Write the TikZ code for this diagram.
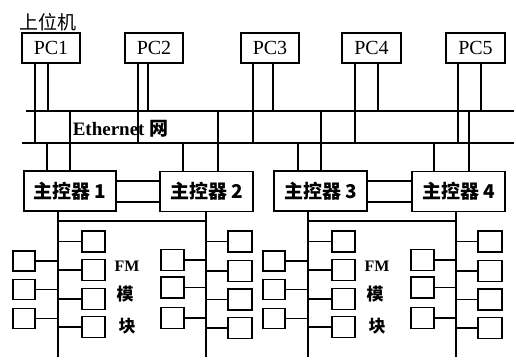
\documentclass[tikz,border=0pt]{standalone}
\usepackage{fontspec}
\setmainfont{Liberation Serif}
\newfontfamily\cjk{Noto Sans CJK SC}
\begin{document}
\begin{tikzpicture}[x=1pt,y=-1pt, line width=1.6pt,
  box/.style={draw, inner sep=0pt, line width=1.6pt},
  pc/.style={box, minimum width=58pt, minimum height=30pt, font=\fontsize{20}{20}\selectfont},
  ctl/.style={box, minimum width=92pt, minimum height=40pt, font=\cjk\bfseries\fontsize{19}{19}\selectfont},
  mod/.style={box, minimum width=23pt, minimum height=21pt},
  lbl/.style={inner sep=0pt, font=\cjk\bfseries\fontsize{17}{17}\selectfont}]
\useasboundingbox (0,0) rectangle (516,361);

% title and PCs
\node[inner sep=0pt, font=\cjk\fontsize{19}{19}\selectfont] (title) at (48,22) {上位机};
\node[pc] (PC1) at (51,48) {PC1};
\node[pc] (PC2) at (154,48) {PC2};
\node[pc] (PC3) at (270,48) {PC3};
\node[pc, minimum width=59pt] (PC4) at (371.5,48) {PC4};
\node[pc, minimum width=59pt] (PC5) at (475.5,48) {PC5};

% Ethernet buses
\coordinate (tbL) at (26,111); \coordinate (tbR) at (514,111);
\coordinate (bbL) at (22,143); \coordinate (bbR) at (514,143);
\draw (tbL) -- (tbR);
\draw (bbL) -- (bbR);
\node[anchor=west, inner sep=0pt, font=\bfseries\fontsize{19}{19}\selectfont] (eth) at (72,129) {Ethernet {\cjk 网}};

\foreach \p/\a/\b in {PC1/35/48, PC2/138/148, PC3/253/273, PC4/355/378, PC5/458/481}{
  \draw (\p.south -| \a,0) -- (bbL -| \a,0);
  \draw (\p.south -| \b,0) -- (tbL -| \b,0);
}

% controllers
\node[ctl] (C1) at (70,191) {主控器 1};
\node[ctl, minimum width=93pt] (C2) at (206.5,191.5) {主控器 2};
\node[ctl, minimum width=93pt] (C3) at (320.5,191) {主控器 3};
\node[ctl, minimum width=93pt] (C4) at (458.5,191.5) {主控器 4};

\foreach \c/\a/\b in {C1/47/70, C2/183/218, C3/298/321, C4/434/469}{
  \draw (bbL -| \a,0) -- (\c.north -| \a,0);
  \draw (tbL -| \b,0) -- (\c.north -| \b,0);
}
\foreach \u/\v in {C1/C2, C3/C4}{
  \draw (\u.east |- 0,181) -- (\v.west |- 0,181);
  \draw (\u.east |- 0,202) -- (\v.west |- 0,202);
}

% module groups
\foreach \g/\L/\R in {0/C1/C2, 1/C3/C4}{
  \begin{scope}[xshift=\g*250]
    \coordinate (la\g) at (58,357);
    \coordinate (ra\g) at (206,357);
    \draw (\L.south -| 58,0) -- (la\g);
    \draw (\R.south -| 206,0) -- (ra\g);
    \draw (la\g |- 0,221) -- (ra\g |- 0,221);
    \foreach \y [count=\i] in {241.5,270,299,327}{
      \node[mod] (mr\g\i) at (93.5,\y) {};
      \draw (mr\g\i.west) -- (mr\g\i.west -| la\g);
    }
    \foreach \y [count=\i] in {261,289.5,318.5}{
      \node[mod, minimum width=22pt, minimum height=20pt] (ml\g\i) at (24,\y) {};
      \draw (ml\g\i.east) -- (ml\g\i.east -| la\g);
    }
    \foreach \y [count=\i] in {241.5,271,299.5,328}{
      \node[mod, minimum width=24pt] (rr\g\i) at (240,\y) {};
      \draw (rr\g\i.west) -- (rr\g\i.west -| ra\g);
    }
    \foreach \y [count=\i] in {260,287.5,318}{
      \node[mod] (rl\g\i) at (172.5,\y) {};
      \draw (rl\g\i.east) -- (rl\g\i.east -| ra\g);
    }
    \node[inner sep=0pt, font=\bfseries\fontsize{16}{16}\selectfont] (fm\g) at (127,266) {FM};
    \node[lbl] (mo\g) at (125,294) {模};
    \node[lbl] (kuai\g) at (127,326) {块};
  \end{scope}
}
\end{tikzpicture}
\end{document}
